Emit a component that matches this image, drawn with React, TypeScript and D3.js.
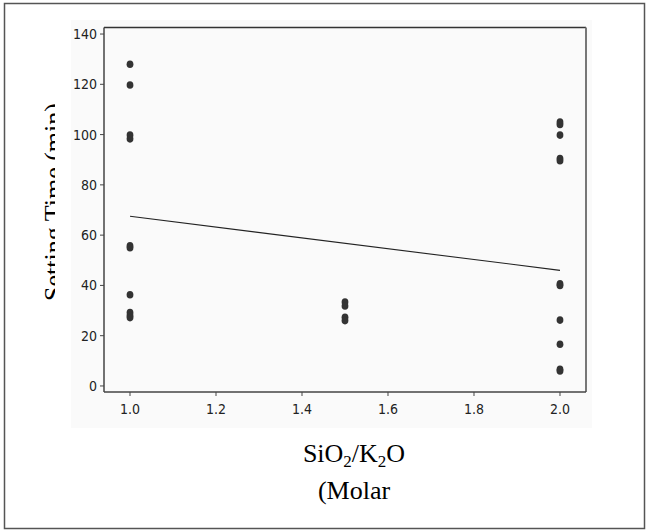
import React from "react";
import * as d3 from "d3";

// ---- data ----
const ratioGroups = [1.0, 1.5, 2.0];
const timesAt10 = [128, 119.7, 99.8, 98.3, 55.8, 55, 36.3, 29.2, 28, 27.2];
const timesAt15 = [33.4, 31.8, 27.3, 26];
const timesAt20 = [105, 104, 99.8, 90.5, 89.6, 40.6, 40, 26.2, 16.6, 6.6, 6];
const trendX = [1.0, 2.0];
const trendY = [67.5, 46];
const xTicks = [1.0, 1.2, 1.4, 1.6, 1.8, 2.0];
const yTicks = [0, 20, 40, 60, 80, 100, 120, 140];
const yTitle = "Setting Time (min)";

const W = 646;
const H = 531;
const plot = { left: 104, right: 586, top: 27.5, bottom: 392 };

export default function App() {
  const x = d3.scaleLinear().domain([0.9395, 2.0605]).range([plot.left, plot.right]);
  const y = d3.scaleLinear().domain([-2.4, 142.6]).range([plot.bottom, plot.top]);

  const groups = [timesAt10, timesAt15, timesAt20];
  const points: { gx: number; v: number }[] = [];
  groups.forEach((arr, i) => arr.forEach((v) => points.push({ gx: ratioGroups[i], v })));

  const line = d3
    .line<number>()
    .x((_, i) => x(trendX[i]))
    .y((d) => y(d));

  const tickFont = '"Liberation Sans Narrow", "DejaVu Sans Condensed", "Arial Narrow", sans-serif';
  const serif = '"Liberation Serif", "Times New Roman", serif';

  return (
    <svg
      width={W}
      height={H}
      style={{ position: "absolute", left: 0, top: 0, background: "#fff" }}
    >
      <defs>
        <clipPath id="ytitleclip">
          <rect x={0} y={0} width={55} height={H} />
        </clipPath>
      </defs>
      {/* outer frame */}
      <rect x={4.5} y={3.5} width={640} height={525} fill="#fff" stroke="#555" strokeWidth={1.5} />

      {/* y title (partially hidden as in the reference) */}
      <g clipPath="url(#ytitleclip)">
        <text
          transform="translate(62,202) rotate(-90)"
          textAnchor="middle"
          fontFamily={serif}
          fontSize={26}
          fill="#000"
        >
          {yTitle}
        </text>
      </g>

      {/* chart background */}
      <rect x={71} y={20} width={521} height={408} fill="#fafafa" />

      {/* frame: top and right */}
      <line x1={plot.left} x2={plot.right} y1={plot.top} y2={plot.top} stroke="#333" strokeWidth={1.5} />
      <line x1={plot.right} x2={plot.right} y1={plot.top} y2={plot.bottom} stroke="#777" strokeWidth={2} />

      {/* axes */}
      <line x1={plot.left} x2={plot.left} y1={plot.top} y2={plot.bottom} stroke="#444" strokeWidth={1.5} />
      <line x1={plot.left} x2={plot.right} y1={plot.bottom} y2={plot.bottom} stroke="#444" strokeWidth={1.5} />

      {/* y ticks */}
      {yTicks.map((t) => (
        <g key={"y" + t}>
          <line x1={plot.left - 4} x2={plot.left} y1={y(t)} y2={y(t)} stroke="#444" strokeWidth={1} />
          <text
            x={plot.left - 7}
            y={y(t)}
            dy="0.36em"
            textAnchor="end"
            fontFamily={tickFont}
            fontSize={14}
            fill="#222"
          >
            {t}
          </text>
        </g>
      ))}

      {/* x ticks */}
      {xTicks.map((t) => (
        <g key={"x" + t}>
          <line x1={x(t)} x2={x(t)} y1={plot.bottom} y2={plot.bottom + 4} stroke="#444" strokeWidth={1} />
          <text
            x={x(t)}
            y={414}
            textAnchor="middle"
            fontFamily={tickFont}
            fontSize={14}
            fill="#222"
          >
            {t.toFixed(1)}
          </text>
        </g>
      ))}

      {/* trend line */}
      <path d={line(trendY) || ""} fill="none" stroke="#222" strokeWidth={1.1} />

      {/* points */}
      {points.map((p, i) => (
        <ellipse key={i} cx={x(p.gx)} cy={y(p.v)} rx={3.4} ry={3.8} fill="#333" />
      ))}

      {/* x title */}
      <text x={354} y={462} textAnchor="middle" fontFamily={serif} fontSize={26} fill="#000">
        SiO
        <tspan fontSize={17} dy={5}>2</tspan>
        <tspan dy={-5}>/K</tspan>
        <tspan fontSize={17} dy={5}>2</tspan>
        <tspan dy={-5}>O</tspan>
      </text>
      <text x={354} y={499} textAnchor="middle" fontFamily={serif} fontSize={26} fill="#000">
        (Molar
      </text>
    </svg>
  );
}
